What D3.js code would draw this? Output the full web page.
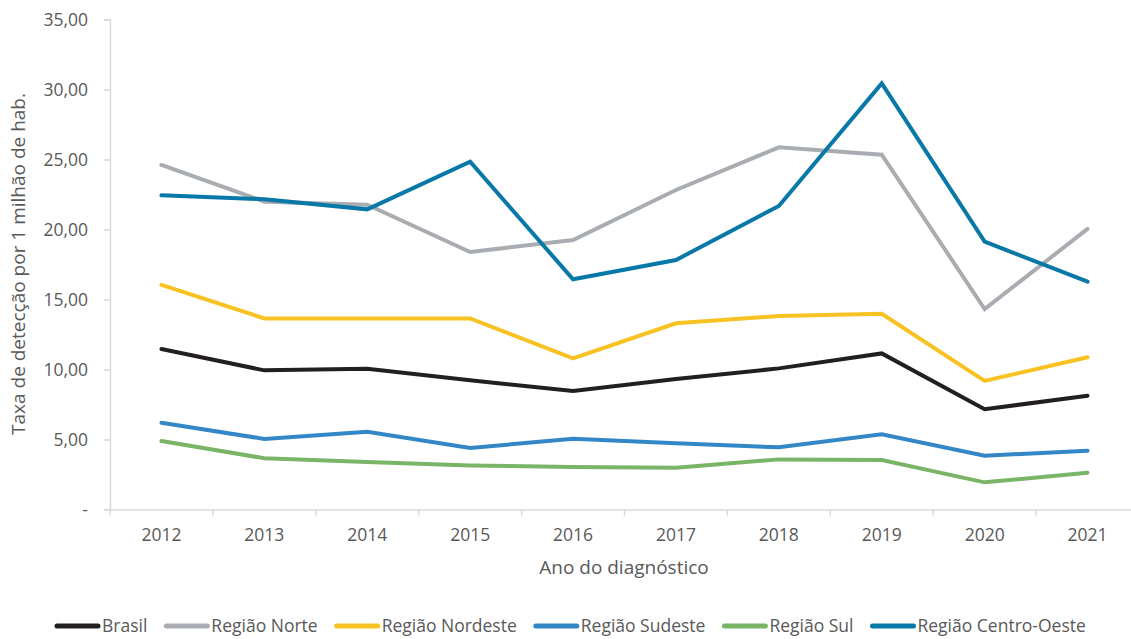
<!DOCTYPE html>
<html><head><meta charset="utf-8">
<script src="https://cdn.jsdelivr.net/npm/d3@7"></script>
<style>
body{margin:0;background:#fff;}
svg text{font-family:"Open Sans",sans-serif;fill:#595959;}
</style></head>
<body><svg id="c" width="1131" height="639"></svg>
<script>
const years = ["2012","2013","2014","2015","2016","2017","2018","2019","2020","2021"];
const seriesNames = ["Brasil","Região Norte","Região Nordeste","Região Sudeste","Região Sul","Região Centro-Oeste"];
const brasil     = [11.46, 9.94, 10.06, 9.23, 8.46, 9.32, 10.08, 11.15, 7.16, 8.13];
const norte      = [24.61, 21.99, 21.77, 18.39, 19.25, 22.82, 25.87, 25.34, 14.32, 20.04];
const nordeste   = [16.04, 13.65, 13.65, 13.65, 10.80, 13.30, 13.82, 13.98, 9.18, 10.87];
const sudeste    = [6.20, 5.04, 5.56, 4.39, 5.06, 4.73, 4.44, 5.37, 3.84, 4.20];
const sul        = [4.89, 3.66, 3.39, 3.15, 3.04, 2.99, 3.58, 3.54, 1.94, 2.63];
const centroOeste= [22.44, 22.16, 21.44, 24.84, 16.44, 17.82, 21.68, 30.44, 19.13, 16.27];
const colors = ["#231f20","#a9adb2","#f8c223","#3487c7","#7ab567","#0878a8"];
const yTicks = [0,5,10,15,20,25,30,35];
const xTitle = "Ano do diagnóstico";
const yTitle = "Taxa de detecção por 1 milhão de hab.";

const data = [brasil,norte,nordeste,sudeste,sul,centroOeste].map((v,i)=>({name:seriesNames[i],color:colors[i],values:v}));

const svg = d3.select("#c");
const x = d3.scaleBand().domain(years).range([110,1139]);
const y = d3.scaleLinear().domain([0,35]).range([509.5,19.5]);
const fmt = v => v===0 ? "-" : d3.format(".2f")(v).replace(".",",");

// y axis
const ya = svg.append("g").attr("transform","translate(110,0)")
  .call(d3.axisLeft(y).tickValues(yTicks).tickFormat(fmt).tickSize(6).tickPadding(16));
ya.select(".domain").attr("stroke","#d9d9dd").attr("stroke-width",1.5);
ya.selectAll(".tick line").attr("stroke","#d9d9dd").attr("stroke-width",1.5);
ya.selectAll("text").style("font-size","17.5px").style("fill","#595959").attr("font-family",null);

// x axis
const xa = svg.append("g").attr("transform","translate(0,509.5)")
  .call(d3.axisBottom(x).tickSize(0).tickPadding(19));
xa.select(".domain").attr("stroke","#d9d9dd").attr("stroke-width",1.5);
xa.selectAll("text").style("font-size","17.5px").style("fill","#595959").attr("font-family",null);
// boundary ticks
svg.append("g").selectAll("line").data(years).join("line")
  .attr("x1",d=>x(d)).attr("x2",d=>x(d)).attr("y1",509.5).attr("y2",515.5)
  .attr("stroke","#d9d9dd").attr("stroke-width",1.5);

// lines
const line = d3.line().x((d,i)=>x(years[i])+x.bandwidth()/2).y(d=>y(d));
svg.append("g").selectAll("path").data(data).join("path")
  .attr("d",d=>line(d.values)).attr("fill","none").attr("stroke",d=>d.color)
  .attr("stroke-width",4).attr("stroke-linejoin","miter").attr("stroke-linecap","round");

// titles
svg.append("text").attr("x",624).attr("y",574).attr("text-anchor","middle").style("font-size","19px").text(xTitle);
svg.append("text").attr("transform","translate(25,264) rotate(-90)").attr("text-anchor","middle").style("font-size","19px").text(yTitle);

// legend
const lg = svg.append("g");
let cx = 55;
const ly = 626;
data.forEach((d,i)=>{
  lg.append("line").attr("x1",cx+2).attr("x2",cx+43).attr("y1",ly).attr("y2",ly)
    .attr("stroke",d.color).attr("stroke-width",5).attr("stroke-linecap","round");
  const t = lg.append("text").attr("x",cx+47).attr("y",ly+6).style("font-size","17.5px").text(d.name);
  cx = cx + 47 + t.node().getComputedTextLength() + 17;
});
</script></body></html>
